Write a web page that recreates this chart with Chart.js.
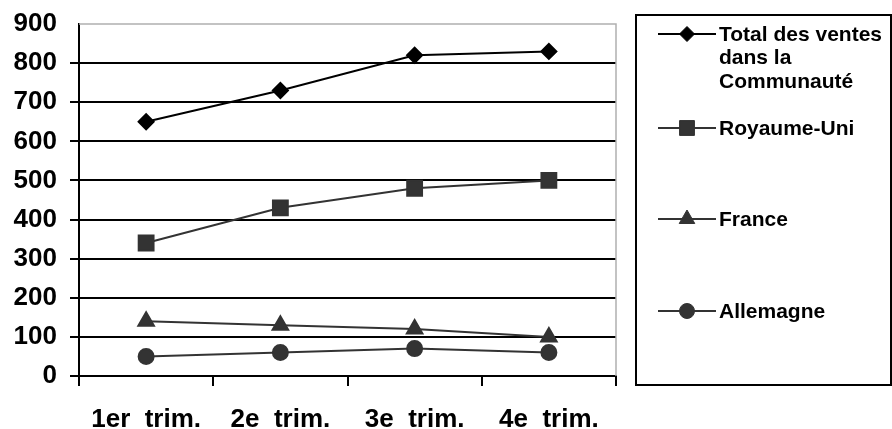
<!DOCTYPE html>
<html>
<head>
<meta charset="utf-8">
<script src="https://cdn.jsdelivr.net/npm/chart.js@4"></script>
<style>
  html, body { margin: 0; padding: 0; background: #fff; }
  #wrap { width: 892px; height: 429px; position: relative; }
</style>
</head>
<body>
<div id="wrap"><canvas id="chart"></canvas></div>
<script>
// Data
const categories = ['1er  trim.', '2e  trim.', '3e  trim.', '4e  trim.'];
const totalCommunaute = [650, 730, 820, 830];
const royaumeUni = [340, 430, 480, 500];
const france = [140, 130, 120, 100];
const allemagne = [50, 60, 70, 60];
const seriesNames = ['Total des ventes dans la Communauté', 'Royaume-Uni', 'France', 'Allemagne'];
const legendLines = [['Total des ventes', 'dans la', 'Communauté'], ['Royaume-Uni'], ['France'], ['Allemagne']];
const yMin = 0, yMax = 900, yStep = 100;

const FONT = "'Liberation Sans', Arial, sans-serif";

// Legend drawn on the canvas, right of the plot
const sideLegend = {
    id: 'sideLegend',
    afterDraw(chart) {
        const ctx = chart.ctx;
        const box = { x: 636, y: 15, w: 255, h: 370 };
        const rows = [34, 128, 219, 311];
        ctx.save();
        ctx.strokeStyle = '#000';
        ctx.lineWidth = 2;
        ctx.strokeRect(box.x, box.y, box.w, box.h);

        chart.data.datasets.forEach((ds, i) => {
            const y = rows[i];
            ctx.strokeStyle = ds.borderColor;
            ctx.lineWidth = 2;
            ctx.beginPath();
            ctx.moveTo(658, y);
            ctx.lineTo(716, y);
            ctx.stroke();

            ctx.fillStyle = ds.pointBackgroundColor;
            ctx.strokeStyle = ds.pointBorderColor;
            ctx.lineWidth = 1;
            Chart.helpers.drawPoint(ctx, {
                pointStyle: ds.pointStyle,
                radius: ds.pointRadius,
                rotation: 0,
                borderWidth: 1
            }, 687, y);

            ctx.fillStyle = '#000';
            ctx.font = 'bold 21px ' + FONT;
            ctx.textBaseline = 'middle';
            ctx.textAlign = 'left';
            legendLines[i].forEach((line, k) => {
                ctx.fillText(line, 719, y + 1 + k * 23.5);
            });
        });
        ctx.restore();
    }
};

// Gray frame on top and right of the plot area
const plotFrame = {
    id: 'plotFrame',
    beforeDatasetsDraw(chart) {
        const { ctx, chartArea: a } = chart;
        ctx.save();
        ctx.strokeStyle = '#b0b0b0';
        ctx.lineWidth = 1.5;
        ctx.beginPath();
        ctx.moveTo(a.left, a.top);
        ctx.lineTo(a.right, a.top);
        ctx.lineTo(a.right, a.bottom);
        ctx.stroke();
        ctx.restore();
    }
};

const ctx = document.getElementById('chart');

new Chart(ctx, {
    type: 'line',
    data: {
        labels: categories,
        datasets: [
            {
                label: seriesNames[0],
                data: totalCommunaute,
                borderColor: '#000',
                borderWidth: 2,
                pointStyle: 'rectRot',
                pointRadius: 7.5,
                pointBackgroundColor: '#000',
                pointBorderColor: '#000'
            },
            {
                label: seriesNames[1],
                data: royaumeUni,
                borderColor: '#333',
                borderWidth: 2,
                pointStyle: 'rect',
                pointRadius: 10.5,
                pointBackgroundColor: '#333',
                pointBorderColor: '#333'
            },
            {
                label: seriesNames[2],
                data: france,
                borderColor: '#333',
                borderWidth: 2,
                pointStyle: 'triangle',
                pointRadius: 9,
                pointBackgroundColor: '#333',
                pointBorderColor: '#333'
            },
            {
                label: seriesNames[3],
                data: allemagne,
                borderColor: '#333',
                borderWidth: 2,
                pointStyle: 'circle',
                pointRadius: 7.5,
                pointBackgroundColor: '#333',
                pointBorderColor: '#333'
            }
        ]
    },
    options: {
        responsive: true,
        maintainAspectRatio: false,
        animation: false,
        layout: {
            padding: { left: 0, top: 24, right: 276, bottom: 0 }
        },
        plugins: {
            legend: { display: false },
            tooltip: { enabled: false }
        },
        elements: {
            line: { tension: 0 }
        },
        scales: {
            x: {
                offset: true,
                grid: {
                    offset: true,
                    drawOnChartArea: false,
                    color: '#000',
                    lineWidth: 2,
                    tickLength: 10
                },
                border: { color: '#000', width: 2 },
                ticks: {
                    color: '#000',
                    padding: 18,
                    maxRotation: 0,
                    font: { family: FONT, size: 26, weight: 'bold' }
                },
                afterFit(scale) {
                    scale.height = 53;
                    scale.paddingLeft = 0;
                    scale.paddingRight = 0;
                }
            },
            y: {
                min: yMin,
                max: yMax,
                ticks: {
                    stepSize: yStep,
                    color: '#000',
                    padding: 13,
                    font: { family: FONT, size: 26, weight: 'bold' }
                },
                grid: {
                    color: c => c.tick && c.tick.value === yMax ? 'rgba(0,0,0,0)' : '#000',
                    lineWidth: 2,
                    tickLength: 9
                },
                border: { color: '#000', width: 2 },
                afterFit(scale) {
                    scale.width = 79;
                    scale.paddingTop = 0;
                    scale.paddingBottom = 0;
                }
            }
        }
    },
    plugins: [plotFrame, sideLegend]
});
</script>
</body>
</html>
